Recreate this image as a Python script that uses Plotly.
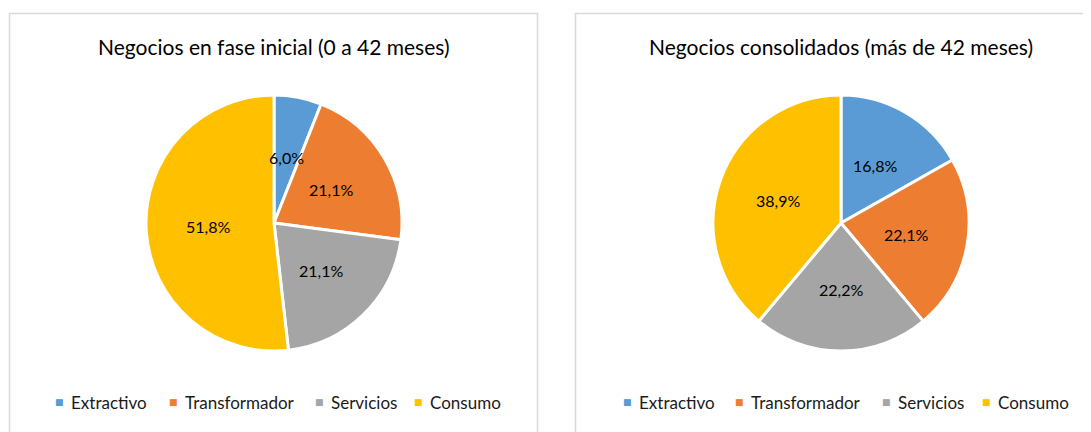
import math
import plotly.graph_objects as go

# page body has an 8px default margin; figure is sized to fit the window
OFF = 8
W, H = 1091 - OFF, 432 - OFF

categories = ["Extractivo", "Transformador", "Servicios", "Consumo"]
colors = ["#5B9BD5", "#ED7D31", "#A5A5A5", "#FFC000"]
values_inicial = [6.0, 21.1, 21.1, 51.8]
values_consolidado = [16.8, 22.1, 22.2, 38.9]
titles = ["Negocios en fase inicial (0 a 42 meses)",
          "Negocios consolidados (más de 42 meses)"]

FONT = "Lato, Calibri, Carlito, sans-serif"

def px(x):
    return (x - OFF) / W

def py(y):
    return 1 - (y - OFF) / H

panels = [
    dict(values=values_inicial, cx=274, cy=223, r=128, left=9.5, right=537.5,
         leg_x=[59, 173, 319, 418], title=titles[0]),
    dict(values=values_consolidado, cx=841, cy=223, r=128, left=575.5, right=1100,
         leg_x=[627, 739, 886, 986], title=titles[1]),
]

fig = go.Figure()
shapes = []
annotations = []

for p in panels:
    cx, cy, r = p["cx"], p["cy"], p["r"]
    fig.add_trace(go.Pie(
        labels=categories,
        values=p["values"],
        sort=False,
        direction="clockwise",
        rotation=0,
        marker=dict(colors=colors, line=dict(color="white", width=3)),
        textinfo="none",
        hoverinfo="label+percent",
        showlegend=False,
        domain=dict(x=[px(cx - r), px(cx + r)], y=[py(cy + r), py(cy - r)]),
    ))
    # data labels placed at the middle angle of each slice
    total = sum(p["values"])
    cum = 0.0
    for v in p["values"]:
        mid = (cum + v / 2) / total * 2 * math.pi
        cum += v
        lx = cx + 0.52 * r * math.sin(mid)
        ly = cy - 0.52 * r * math.cos(mid)
        annotations.append(dict(
            x=px(lx), y=py(ly), xref="paper", yref="paper",
            text=f"{v:.1f}%".replace(".", ","), showarrow=False,
            font=dict(family=FONT, size=16, color="#000000"),
            xanchor="center", yanchor="middle"))
    # panel border
    shapes.append(dict(type="rect", xref="paper", yref="paper",
                       x0=px(p["left"]), x1=px(p["right"]),
                       y0=py(445), y1=py(13.5),
                       line=dict(color="#D9D9D9", width=1.5)))
    # title
    annotations.append(dict(
        x=px(cx), y=py(47), xref="paper", yref="paper",
        text=p["title"], showarrow=False,
        font=dict(family=FONT, size=21, color="#000000"),
        xanchor="center", yanchor="middle"))
    # legend
    for cat, col, lxp in zip(categories, colors, p["leg_x"]):
        annotations.append(dict(
            x=px(lxp), y=py(402), xref="paper", yref="paper",
            text="■", showarrow=False,
            font=dict(family="DejaVu Sans", size=9, color=col),
            xanchor="center", yanchor="middle"))
        annotations.append(dict(
            x=px(lxp + 10), y=py(402), xref="paper", yref="paper",
            text=cat, showarrow=False,
            font=dict(family=FONT, size=17, color="#1a1a1a"),
            xanchor="left", yanchor="middle"))

fig.update_layout(
    width=W, height=H,
    margin=dict(l=0, r=0, t=0, b=0),
    paper_bgcolor="white",
    plot_bgcolor="white",
    shapes=shapes,
    annotations=annotations,
)

fig.write_html("out.html")
